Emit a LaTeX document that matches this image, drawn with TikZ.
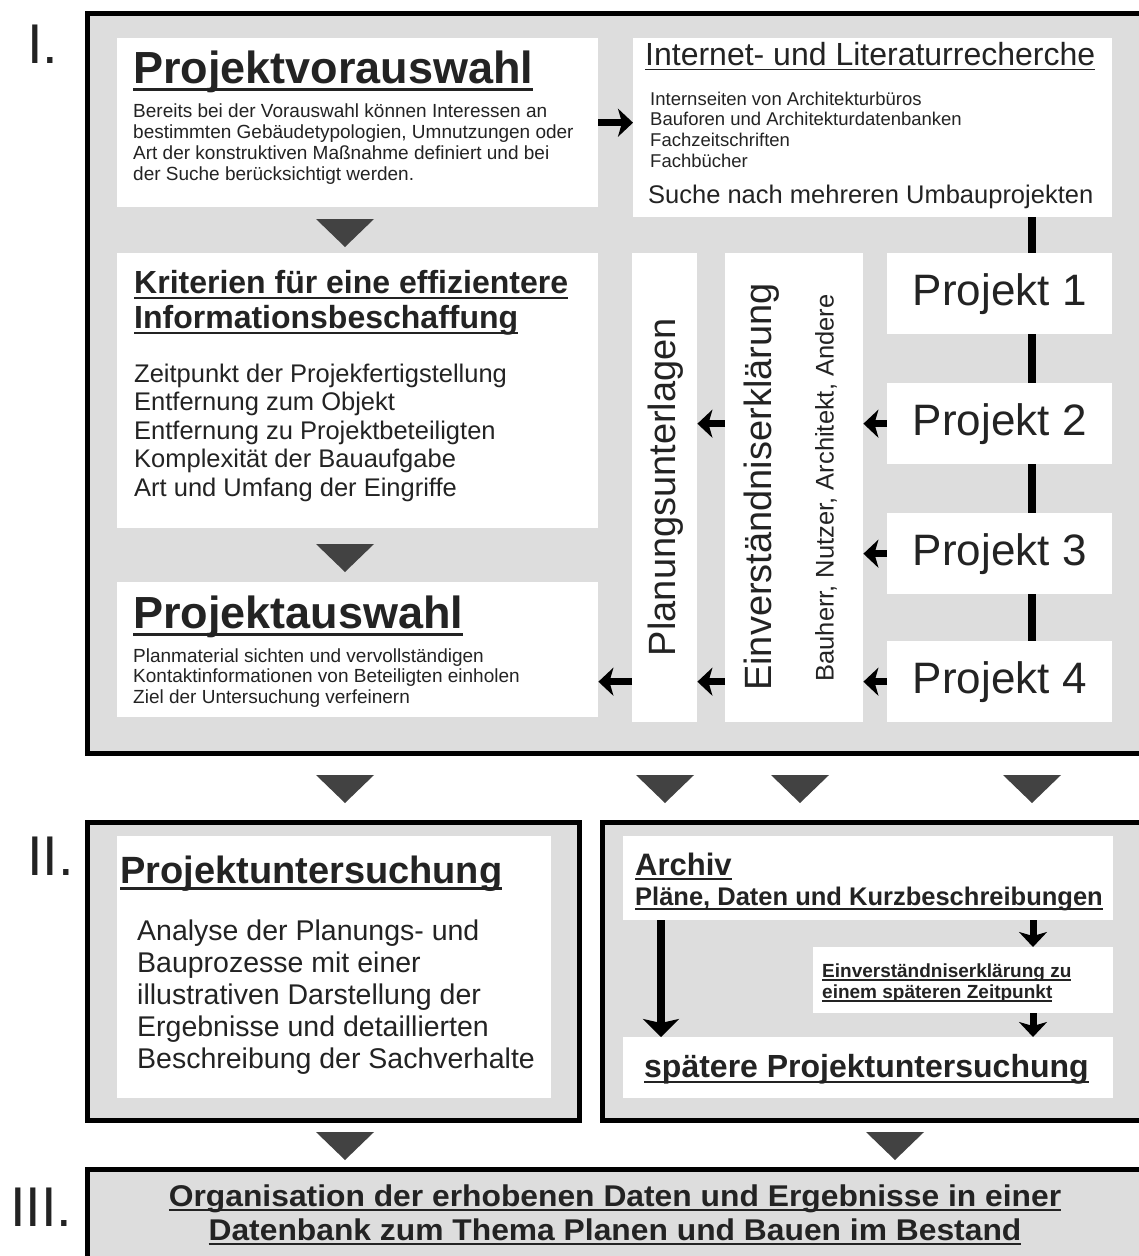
\documentclass[tikz,border=0pt]{standalone}
\usepackage{fontspec}
\setmainfont{Liberation Sans}
\usepackage{graphicx}
\usetikzlibrary{arrows.meta}

\definecolor{panelgray}{RGB}{221,221,221}
\definecolor{tridark}{RGB}{66,66,66}
\definecolor{inkgray}{RGB}{35,35,35}
\newcommand{\fsz}[1]{\fontsize{#1}{#1}\selectfont}
\newcommand{\ulth}[2]{\setbox0\hbox{#2}\rlap{\rule[\dimexpr-0.11em-#1\relax]{\wd0}{#1}}\box0}

\begin{document}
\begin{tikzpicture}[x=1pt, y=-1pt,
	panel/.style={ draw=black, line width=4.5pt, fill=panelgray, inner sep=0pt, anchor=north west },
	card/.style={ fill=white, inner sep=0pt, anchor=north west },
	txt/.style={ anchor=base west, inner sep=0pt, text=inkgray },
	vtxt/.style={ rotate=90, inner sep=0pt, text=inkgray },
	pointer/.style={ line width=7pt, -{Stealth[length=15pt, width=28pt, inset=4pt]} },
	longpointer/.style={ line width=8pt, -{Stealth[length=18pt, width=36pt, inset=4pt]} },
	spine/.style={ line width=8pt },
	downtri/.pic={ \fill[tridark] (-29,0) -- (29,0) -- (0,28) -- cycle; }
]

\fill[white] (0,0) rectangle (1139,1256);
\useasboundingbox (0,0) rectangle (1139,1256);

% stages
\node[panel, minimum width=1060pt, minimum height=740pt] (stageI) at (85,11) {};
\node[panel, minimum width=492pt, minimum height=298pt] (stageIIa) at (85,820) {};
\node[panel, minimum width=545pt, minimum height=298pt] (stageIIb) at (600,820) {};
\node[panel, minimum width=1060pt, minimum height=100pt] (stageIII) at (85,1167) {};

\node[txt, font=\fsz{56}] (numI) at (27,63) {I.};
\node[txt, font=\fsz{56}] (numII) at (27,875) {II.};
\node[txt, font=\fsz{56}] (numIII) at (10,1226) {III.};

% stage I
\node[card, minimum width=481pt, minimum height=169pt] (vorw) at (117,38) {};
\node[txt, font=\bfseries\fsz{45}] (vorwT) at (133,83) {\ulth{3pt}{Projektvorauswahl}};
\foreach \t [count=\i from 0] in {Bereits bei der Vorauswahl können Interessen an,
	{bestimmten Gebäudetypologien, Umnutzungen oder},
	Art der konstruktiven Maßnahme definiert und bei,
	der Suche berücksichtigt werden.}
	\node[txt, font=\fsz{19}] (vorwL\i) at (133,{117+21*\i}) {\t};

\node[card, minimum width=479pt, minimum height=179pt] (recherche) at (633,38) {};
\node[txt, font=\fsz{32}] (rechercheT) at (645,65) {\ulth{1.5pt}{Internet- und Literaturrecherche}};
\foreach \t [count=\i from 0] in {Internseiten von Architekturbüros, Bauforen und Architekturdatenbanken,
	Fachzeitschriften, Fachbücher}
	\node[txt, font=\fsz{18.5}] (rechercheL\i) at (650,{105+20.7*\i}) {\t};
\node[txt, font=\fsz{25.5}] (sucheT) at (648,203) {Suche nach mehreren Umbauprojekten};

\node[card, minimum width=481pt, minimum height=275pt] (krit) at (117,253) {};
\node[txt, font=\bfseries\fsz{32}] (kritT1) at (134,293) {\ulth{2pt}{Kriterien für eine effizientere}};
\node[txt, font=\bfseries\fsz{32}] (kritT2) at (134,328) {\ulth{2pt}{Informationsbeschaffung}};
\foreach \t [count=\i from 0] in {Zeitpunkt der Projekfertigstellung, Entfernung zum Objekt,
	Entfernung zu Projektbeteiligten, Komplexität der Bauaufgabe, Art und Umfang der Eingriffe}
	\node[txt, font=\fsz{25.5}] (kritL\i) at (134,{382+28.5*\i}) {\t};

\node[card, minimum width=481pt, minimum height=135pt] (ausw) at (117,582) {};
\node[txt, font=\bfseries\fsz{45}] (auswT) at (133,628) {\ulth{3pt}{Projektauswahl}};
\foreach \t [count=\i from 0] in {Planmaterial sichten und vervollständigen,
	Kontaktinformationen von Beteiligten einholen, Ziel der Untersuchung verfeinern}
	\node[txt, font=\fsz{19}] (auswL\i) at (133,{662+20.5*\i}) {\t};

\node[card, minimum width=65pt, minimum height=469pt] (plan) at (632,253) {};
\node[vtxt, font=\fsz{38}] (planT) at (666,487) {Planungsunterlagen};
\node[card, minimum width=138pt, minimum height=469pt] (einv) at (725,253) {};
\node[vtxt, font=\fsz{38}] (einvT) at (762,487) {Einverständniserklärung};
\node[vtxt, font=\fsz{25.5}] (einvS) at (826,488) {Bauherr, Nutzer, Architekt, Andere};

\coordinate (spinex) at (1032,0);
\foreach \n/\y in {1/253, 2/383, 3/513, 4/641}
	\node[card, minimum width=225pt, minimum height=81pt, font=\fsz{44}, text=inkgray] (p\n) at (887,\y) {Projekt \n};
\foreach \a/\b in {recherche/p1, p1/p2, p2/p3, p3/p4}
	\draw[spine] (\a.south -| spinex) -- (\b.north -| spinex);

\draw[pointer] (vorw.east) -- (vorw.east -| recherche.west);
\foreach \n in {2,3,4} \draw[pointer] (p\n.west) -- (p\n.west -| einv.east);
\foreach \n in {2,4} \draw[pointer] (einv.west |- p\n.west) -- (plan.east |- p\n.west);
\draw[pointer] (plan.west |- p4.west) -- (ausw.east |- p4.west);

\foreach \x/\y in {345/219, 345/544, 345/775, 665/775, 800/775, 1032/775, 345/1132, 895/1132}
	\pic at (\x,\y) {downtri};

% stage II
\node[card, minimum width=434pt, minimum height=262pt] (unters) at (117,836) {};
\node[txt, font=\bfseries\fsz{38}] (untersT) at (120,883) {\ulth{2.5pt}{Projektuntersuchung}};
\foreach \t [count=\i from 0] in {Analyse der Planungs- und, Bauprozesse mit einer,
	illustrativen Darstellung der, Ergebnisse und detaillierten, Beschreibung der Sachverhalte}
	\node[txt, font=\fsz{28.5}] (untersL\i) at (137,{940+32*\i}) {\t};

\node[card, minimum width=490pt, minimum height=84pt] (archiv) at (623,836) {};
\node[txt, font=\bfseries\fsz{31}] (archivT) at (635,875) {\ulth{2pt}{Archiv}};
\node[txt, font=\bfseries\fsz{25.5}] (archivS) at (635,905) {\ulth{2pt}{Pläne, Daten und Kurzbeschreibungen}};
\node[card, minimum width=300pt, minimum height=66pt] (zusage) at (813,947) {};
\node[txt, font=\bfseries\fsz{19}] (zusageL0) at (822,977) {\ulth{1.5pt}{Einverständniserklärung zu}};
\node[txt, font=\bfseries\fsz{19}] (zusageL1) at (822,998) {\ulth{1.5pt}{einem späteren Zeitpunkt}};
\node[card, minimum width=490pt, minimum height=61pt] (spaeter) at (623,1037) {};
\node[txt, font=\bfseries\fsz{32}] (spaeterT) at (644,1077) {\ulth{2pt}{spätere Projektuntersuchung}};

\coordinate (lx) at (661,0);
\coordinate (rx) at (1033,0);
\draw[longpointer] (archiv.south -| lx) -- (spaeter.north -| lx);
\draw[pointer] (archiv.south -| rx) -- (zusage.north -| rx);
\draw[pointer] (zusage.south -| rx) -- (spaeter.north -| rx);

% stage III
\node[txt, anchor=base, font=\bfseries\fsz{30}] (bankT1) at (615,1206)
	{\scalebox{1.06}[1]{\ulth{2pt}{Organisation der erhobenen Daten und Ergebnisse in einer}}};
\node[txt, anchor=base, font=\bfseries\fsz{30}] (bankT2) at (615,1240)
	{\scalebox{1.06}[1]{\ulth{2pt}{Datenbank zum Thema Planen und Bauen im Bestand}}};

\end{tikzpicture}
\end{document}
